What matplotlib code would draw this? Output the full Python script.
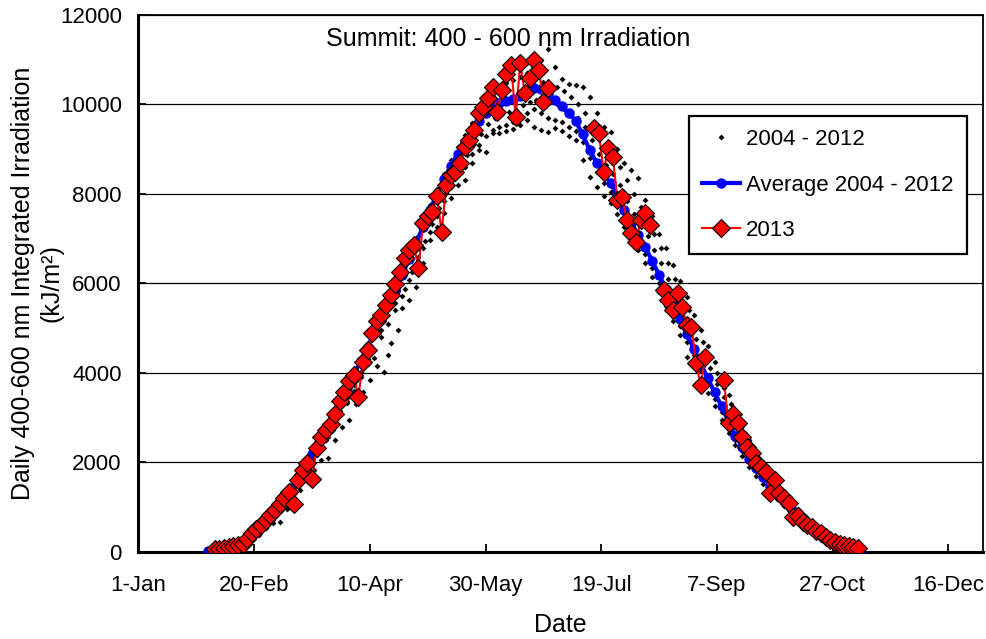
import numpy as np
import matplotlib
matplotlib.use('Agg')
import matplotlib.pyplot as plt

plt.rcParams['font.family'] = ['Liberation Sans', 'DejaVu Sans']

# x axis: days since 1-Jan
tick_days = [0, 50, 100, 150, 200, 250, 300, 350]
tick_labels = ['1-Jan', '20-Feb', '10-Apr', '30-May', '19-Jul', '7-Sep', '27-Oct', '16-Dec']

# 2004 - 2012 daily values (sampled), one column per list
obs_days = list(range(33, 310, 3))
obs_days2 = list(range(34, 311, 3))
obs_a = [20, 40, 60, 110, 200, 300, 420, 560, 720, 880, 1080, 1280, 1500, 1740, 1990, 2240, 2500, 2780,
         3050, 3330, 3600, 3900, 4200, 4500, 4800, 5100, 5400, 5720, 6080, 6420, 6780, 7150, 7500, 7850,
         8150, 8430, 8600, 8900, 9100, 9300, 9420, 9500, 9550, 9600, 9540, 9650, 9500, 9430, 9390, 9470,
         9400, 9300, 9200, 8760, 8380, 8160, 7950, 7800, 7550, 7250, 6950, 6740, 6450, 6150, 5800, 5500,
         5150, 4850, 4360, 4200, 3850, 3550, 3250, 2950, 2650, 2380, 2150, 1900, 1700, 1520, 1350, 1180,
         1020, 870, 730, 600, 470, 350, 240, 150, 90, 50, 20]
obs_b = [40, 60, 100, 160, 250, 380, 500, 660, 820, 1000, 1220, 1440, 1680, 1930, 2200, 2480, 2770, 3070,
         3370, 3660, 3960, 4280, 4590, 4910, 5220, 5540, 5850, 6190, 6560, 6920, 7280, 7650, 8010, 8340,
         8640, 8910, 9170, 9410, 9630, 9830, 9970, 10050, 10100, 10150, 10220, 10320, 10400, 10500, 10450,
         10400, 10300, 10170, 10000, 9800, 9550, 9300, 9050, 8850, 8600, 8300, 8000, 7700, 7400, 7100,
         6800, 6450, 6100, 5750, 5400, 5050, 4700, 4350, 4000, 3650, 3300, 2950, 2650, 2350, 2100, 1880,
         1660, 1450, 1260, 1080, 910, 750, 590, 450, 330, 210, 140, 80, 40]
obs_c = [30, 70, 90, 130, 190, 330, 450, 600, 760, 900, 1120, 1330, 1550, 1790, 2050, 2310, 2580, 2870,
         3150, 3440, 3720, 4020, 4320, 4330, 4950, 4400, 5550, 5440, 5630, 5920, 6450, 6970, 7260, 7570,
         7900, 8200, 8310, 8700, 8980, 8940, 9360, 9360, 9400, 9450, 9700, 9800, 9900, 9800, 9700, 9650,
         9600, 9500, 9400, 9150, 8800, 8500, 8250, 8050, 7750, 7450, 7150, 6900, 6650, 6350, 6000, 5700,
         5350, 5050, 4700, 4400, 4050, 3750, 3420, 3120, 2800, 2500, 2250, 2000, 1800, 1620, 1430, 1250,
         1090, 930, 790, 650, 510, 390, 270, 170, 110, 60, 30]
obs_d = [50, 30, 70, 180, 270, 290, 380, 520, 650, 670, 960, 1160, 1370, 1580, 1820, 2050, 2090, 2500,
         2780, 2950, 3300, 3580, 3850, 4150, 4020, 4660, 4950, 5880, 6250, 6600, 6950, 7320, 7680, 8020,
         8330, 8600, 8880, 9120, 9350, 9560, 9700, 9780, 9830, 9880, 9980, 10050, 10100, 10150, 10050,
         10000, 9900, 9850, 9700, 9500, 9200, 8900, 8650, 8450, 8200, 7850, 7550, 7300, 7050, 6750, 6450,
         6100, 5750, 5450, 5100, 4750, 4400, 4100, 3750, 3450, 3100, 2750, 2500, 2250, 2000, 1800, 1600,
         1400, 1220, 1050, 880, 720, 570, 430, 310, 200, 130, 75, 45]
obs_e = [10, 50, 120, 120, 220, 400, 530, 690, 850, 1040, 1250, 1480, 1720, 1980, 2250, 2530, 2820, 3120,
         3420, 3720, 4030, 4350, 4660, 4980, 5300, 5620, 5930, 6270, 6650, 7020, 7380, 7760, 8120, 8450,
         8760, 9050, 9320, 9580, 9820, 10050, 10250, 10380, 10480, 10550, 10620, 10700, 10760, 11000,
         11250, 10830, 10580, 10450, 10440, 10390, 10170, 9800, 9500, 9390, 9000, 8700, 8530, 8350, 7860,
         7500, 7100, 6800, 6400, 6050, 5700, 5300, 4950, 4600, 4250, 3900, 3500, 3150, 2800, 2500, 2250,
         2000, 1750, 1530, 1330, 1140, 960, 790, 630, 480, 350, 240, 160, 95, 55]

# Average 2004 - 2012
avg_days = list(range(30, 313, 3))
avg_vals = [15, 30, 50, 80, 140, 230, 350, 480, 640, 800, 980, 1200, 1420, 1660, 1910, 2180, 2460, 2750,
            3050, 3350, 3650, 3950, 4270, 4580, 4900, 5210, 5530, 5840, 6180, 6550, 6910, 7270, 7640, 8000,
            8330, 8630, 8900, 9160, 9400, 9620, 9820, 9960, 10030, 10080, 10120, 10200, 10300, 10370, 10350,
            10230, 10100, 9960, 9820, 9620, 9330, 8980, 8700, 8450, 8250, 7960, 7650, 7350, 7080, 6820, 6500,
            6190, 5870, 5530, 5200, 4870, 4540, 4200, 3880, 3560, 3250, 2900, 2590, 2340, 2080, 1870, 1670,
            1480, 1300, 1130, 970, 820, 670, 530, 400, 290, 190, 120, 70, 35, 15]

# 2013 (gaps are missing days)
nan = np.nan
y13_days = list(range(33, 312, 2))
y13_vals = [50, 60, 80, 100, 120, 150, 180, 280, 420, 500, 600, 720, 820, 930, 1060, 1200, 1330, 1060,
            1600, 1820, 1980, 1620, 2330, 2560, 2720, 2850, 3080, 3380, 3560, 3820, 3960, 3450, 4250, 4500,
            4880, 5150, 5300, 5520, 5750, 5980, 6250, 6560, 6750, 6850, 6340, 7350, 7500, 7600, 7950, 7150,
            8200, 8420, 8500, 8700, 9060, 9200, 9430, 9800, 9950, 10140, 10400, 9830, 10330, 10690, 10880,
            9720, 10920, 10250, 10600, 11000, 10780, 10060, 10370,
            nan, nan, nan, nan, nan, nan, nan, nan, nan,
            9470, 9360, 8500, 9020, 8830, 7870, 7940, 7410, 7120, 6920, 7410, 7570, 7300, nan, nan,
            5850, 5630, 5400, 5780, 5470, 5070, 5030, 4210, 3730, 4360, nan, nan, nan,
            3830, 2870, 3090, 2870, 2560, 2340, 2200, 1980, 1900, 1780, 1310, 1600, 1310, 1200, 1080,
            780, 800, 670, 600, 560, 460, 420, 330, 260, 220, 180, 150, 120, 100, 80]

fig = plt.figure(figsize=(9.87, 6.39), dpi=100)
ax = fig.add_axes([0.1403, 0.1366, 0.8557, 0.8399])

obs_sets = [(obs_days, obs_a), (obs_days2, obs_b), (obs_days, obs_c), (obs_days2, obs_d), (obs_days, obs_e)]
for i, (dd, col) in enumerate(obs_sets):
    ax.plot(dd, col, linestyle='none', marker='D', ms=3.0, color='black', mew=0,
            label='2004 - 2012' if i == 0 else None, zorder=3)
ax.plot(avg_days, avg_vals, color='#0000ff', lw=3, marker='o', ms=7.5, mew=0,
        label='Average 2004 - 2012', zorder=4)
ax.plot(y13_days, y13_vals, color='#ff0000', lw=1.5, marker='D', ms=9, mfc='#ff0000',
        mec='black', mew=0.8, label='2013', zorder=5)

ax.set_xlim(0, 365)
ax.set_ylim(0, 12000)
ax.set_xticks(tick_days)
ax.set_xticklabels(tick_labels)
ax.set_yticks(range(0, 12001, 2000))
ax.yaxis.grid(True, color='black', lw=0.9)
ax.set_axisbelow(True)

ax.tick_params(axis='both', direction='in', length=6, width=1.3, labelsize=16)
ax.tick_params(axis='x', pad=17)
ax.tick_params(axis='y', pad=12)
for side in ['left', 'bottom']:
    ax.spines[side].set_linewidth(2.2)
for side in ['top', 'right']:
    ax.spines[side].set_linewidth(1.3)

ax.set_xlabel('Date', fontsize=18, labelpad=12)
ax.set_ylabel('Daily 400-600 nm Integrated Irradiation\n(kJ/m\u00b2)', fontsize=18, linespacing=1.25)
ax.yaxis.set_label_coords(-0.089, 0.5)

ax.text(0.4375, 0.955, 'Summit: 400 - 600 nm Irradiation', transform=ax.transAxes,
        ha='center', va='center', fontsize=18)

leg = ax.legend(loc='upper left', bbox_to_anchor=(0.652, 0.812), fontsize=16, numpoints=1,
                fancybox=False, edgecolor='black', framealpha=1, borderpad=0.6,
                labelspacing=1.1, handlelength=1.7, handletextpad=0.25, borderaxespad=0)
leg.get_frame().set_linewidth(1.6)

plt.savefig('out.png', dpi=100)
